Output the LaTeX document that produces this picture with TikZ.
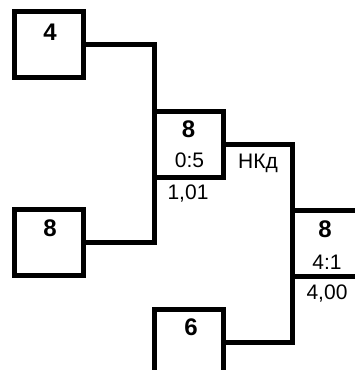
\documentclass[tikz,border=0pt]{standalone}
\usepackage{fontspec}
\setmainfont{Liberation Sans}

\begin{document}
\begin{tikzpicture}[x=1pt, y=-1pt, line width=5pt,
  box/.style={draw, minimum width=69pt, minimum height=66pt, inner sep=0pt, outer sep=0pt},
  num/.style={font=\fontsize{24}{26}\selectfont\bfseries, inner sep=0pt, anchor=base},
  val/.style={font=\fontsize{21}{23}\selectfont, inner sep=0pt, anchor=base}]
  \useasboundingbox (0,0) rectangle (355,370);
  \clip (0,0) rectangle (355,370);

  % Boxes
  \node[box] (b4) at (49.25,44.75) {};
  \node[box] (b8) at (49.25,242.75) {};
  \node[box] (m1) at (188.75,144) {};
  \node[box] (b6) at (188.75,342.5) {};
  \node[box] (m2) at (326.75,243) {};

  % Brackets
  \draw (b4.east) -| (m1.north west);
  \draw (b8.east) -| (m1.south west);
  \draw (m1.east) -| (m2.north west);
  \draw (b6.east) -| (m2.south west);

  % Labels
  \node[num] (t4) at (50,40) {4};
  \node[num] (t8a) at (50,236) {8};
  \node[num] (t6) at (191,335) {6};
  \node[num] (t8b) at (188.5,137.5) {8};
  \node[val] (s1) at (189.5,167.5) {0:5};
  \node[val] (k1) at (188,199.5) {1,01};
  \node[val] (nk) at (258,168) {НКд};
  \node[num] (t8c) at (325,237) {8};
  \node[val] (s2) at (327,269) {4:1};
  \node[val] (k2) at (327,299) {4,00};
\end{tikzpicture}
\end{document}
